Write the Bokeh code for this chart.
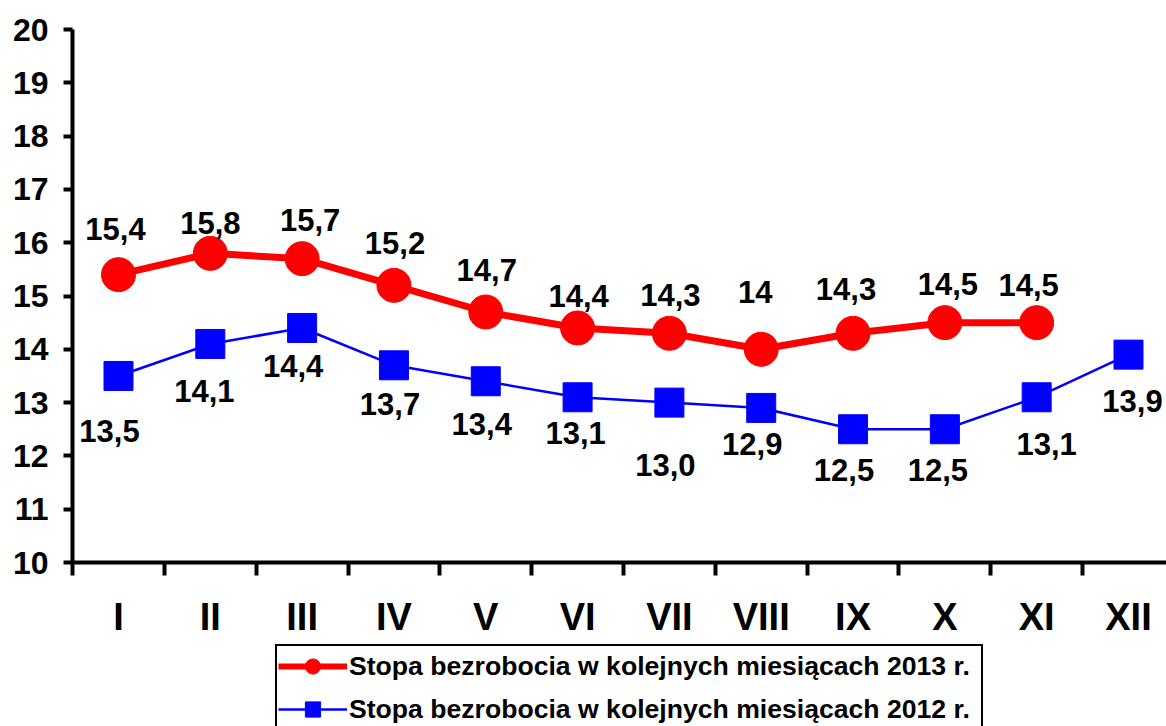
from bokeh.plotting import figure
from bokeh.layouts import column
from bokeh.models import FixedTicker, Legend, LegendItem, ColumnDataSource, Range1d
from bokeh.core.properties import value
from bokeh.embed import file_html
from bokeh.resources import INLINE

# ---- data ----
months = ["I", "II", "III", "IV", "V", "VI", "VII", "VIII", "IX", "X", "XI", "XII"]
rate_2013 = [15.4, 15.8, 15.7, 15.2, 14.7, 14.4, 14.3, 14.0, 14.3, 14.5, 14.5]
labels_2013 = ["15,4", "15,8", "15,7", "15,2", "14,7", "14,4", "14,3", "14", "14,3", "14,5", "14,5"]
rate_2012 = [13.5, 14.1, 14.4, 13.7, 13.4, 13.1, 13.0, 12.9, 12.5, 12.5, 13.1, 13.9]
labels_2012 = ["13,5", "14,1", "14,4", "13,7", "13,4", "13,1", "13,0", "12,9", "12,5", "12,5", "13,1", "13,9"]
y_ticks = [10, 11, 12, 13, 14, 15, 16, 17, 18, 19, 20]
name_2013 = "Stopa bezrobocia w kolejnych miesiącach 2013 r."
name_2012 = "Stopa bezrobocia w kolejnych miesiącach 2012 r."

# ---- label placement (style, pixels) ----
dx_2013 = [-3, 0, 8, 1, 1, 1, 1, -6, -7, 3, -8]
dy_2013 = [-46, -30, -39, -42, -42, -32, -38, -57, -44, -39, -38]
dx_2012 = [-9, -6, -9, -4, -4, -2, -4, -9, -9, -7, 10, 4]
dy_2012 = [55, 47, 38, 39, 43, 36, 62, 36, 41, 41, 47, 46]

FONT = "Liberation Sans"
RED, BLUE = "#FF0000", "#0000FF"

x13 = list(range(1, len(rate_2013) + 1))
x12 = list(range(1, len(rate_2012) + 1))

src13 = ColumnDataSource(dict(x=x13, y=rate_2013, t=labels_2013, dx=dx_2013, dy=dy_2013))
src12 = ColumnDataSource(dict(x=x12, y=rate_2012, t=labels_2012, dx=dx_2012, dy=dy_2012))

p = figure(width=1166, height=640, output_backend="svg", toolbar_location=None,
           title=None, x_range=Range1d(0.499, 12.414), y_range=Range1d(y_ticks[0], y_ticks[-1]),
           min_border_left=72, min_border_right=0, min_border_top=29, min_border_bottom=77)
p.outline_line_color = None
p.grid.visible = False
p.background_fill_color = "white"
p.border_fill_color = "white"

# x axis
xa = p.xaxis[0]
xa.ticker = FixedTicker(ticks=x12, minor_ticks=[i + 0.5 for i in range(0, 12)])
xa.major_label_overrides = {i + 1: m for i, m in enumerate(months)}
xa.axis_line_width = 4
xa.axis_line_color = "black"
xa.major_tick_out = 0
xa.major_tick_in = 0
xa.minor_tick_out = 13
xa.minor_tick_in = 0
xa.minor_tick_line_width = 4
xa.minor_tick_line_color = "black"
xa.major_label_text_font = FONT
xa.major_label_text_font_style = "bold"
xa.major_label_text_font_size = "38px"
xa.major_label_text_color = "black"
xa.major_label_standoff = 20

# y axis
ya = p.yaxis[0]
ya.ticker = FixedTicker(ticks=y_ticks)
ya.axis_line_width = 4
ya.axis_line_color = "black"
ya.major_tick_out = 9
ya.major_tick_in = 0
ya.major_tick_line_width = 4
ya.major_tick_line_color = "black"
ya.minor_tick_out = 0
ya.minor_tick_in = 0
ya.major_label_text_font = FONT
ya.major_label_text_font_style = "bold"
ya.major_label_text_font_size = "32px"
ya.major_label_text_color = "black"
ya.major_label_standoff = 15

# series
p.line("x", "y", source=src12, line_color=BLUE, line_width=2.5)
p.scatter("x", "y", source=src12, marker="square", size=29, fill_color=BLUE, line_color=BLUE)
p.line("x", "y", source=src13, line_color=RED, line_width=7)
p.scatter("x", "y", source=src13, marker="circle", size=34, fill_color=RED, line_color=RED)

for src in (src13, src12):
    p.text("x", "y", text="t", source=src, x_offset="dx", y_offset="dy",
           text_font=value(FONT), text_font_style="bold", text_font_size="31px",
           text_color="black", text_align="center", text_baseline="middle")

# ---- legend strip (its renderers reuse the series sources; they fall outside this strip's ranges) ----
q = figure(width=1166, height=86, output_backend="svg", toolbar_location=None,
           title=None, x_axis_location=None, y_axis_location=None,
           x_range=Range1d(0, 1), y_range=Range1d(0, 1),
           min_border_left=0, min_border_right=0, min_border_top=0, min_border_bottom=0)
q.outline_line_color = None
q.grid.visible = False
ql13 = q.line("x", "y", source=src13, line_color=RED, line_width=6)
qs13 = q.scatter("x", "y", source=src13, marker="circle", fill_color=RED, line_color=RED)
ql12 = q.line("x", "y", source=src12, line_color=BLUE, line_width=2.5)
qs12 = q.scatter("x", "y", source=src12, marker="square", fill_color=BLUE, line_color=BLUE)

legend = Legend(items=[LegendItem(label=name_2013, renderers=[ql13, qs13]),
                       LegendItem(label=name_2012, renderers=[ql12, qs12])],
                location=(203, -5), orientation="vertical",
                glyph_width=69, glyph_height=38, spacing=5, padding=1, margin=0,
                label_standoff=2, label_width=631, label_text_font=FONT,
                label_text_font_style="bold",
                label_text_font_size="26.6px", label_text_color="black",
                border_line_color="black", border_line_width=2, border_line_alpha=1,
                background_fill_color="white", background_fill_alpha=1)
q.add_layout(legend)

layout = column(p, q, spacing=0)
open("out.html", "w").write(file_html(layout, INLINE))
